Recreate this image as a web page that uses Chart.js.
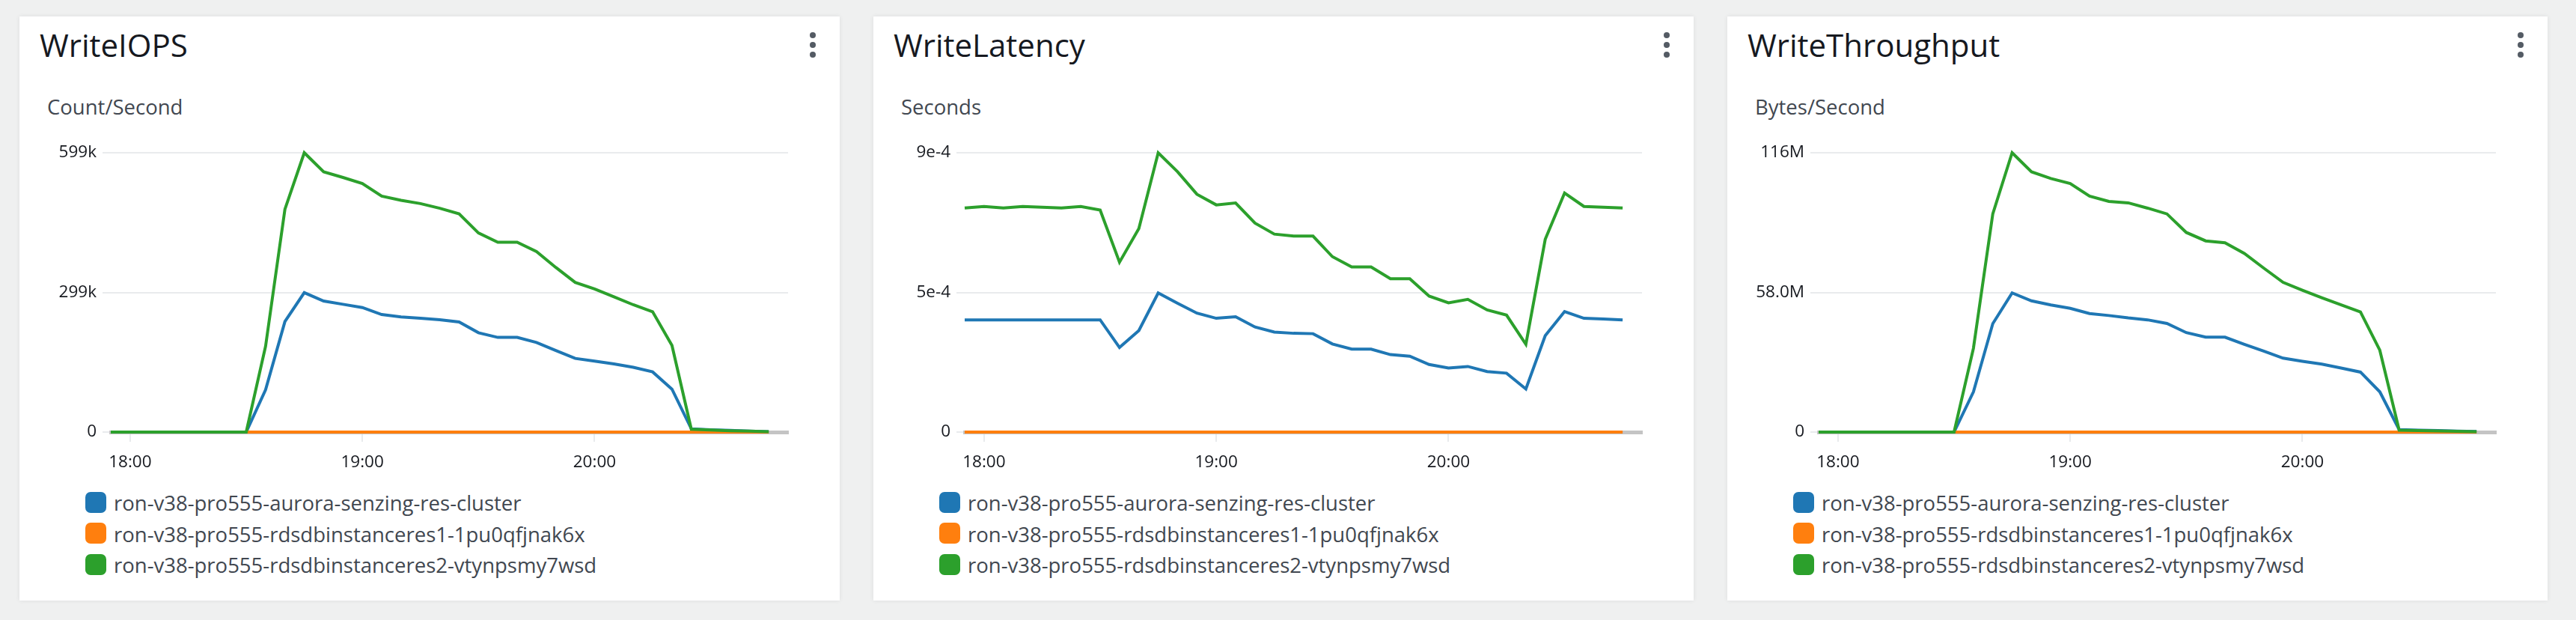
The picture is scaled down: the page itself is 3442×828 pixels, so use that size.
<!DOCTYPE html>
<html><head><meta charset="utf-8">
<script src="https://cdn.jsdelivr.net/npm/chart.js@4.4.0/dist/chart.umd.min.js"></script>
<style>
html,body{margin:0;padding:0;}
body{width:3442px;height:828px;background:#eff0f0;position:relative;overflow:hidden;font-family:'Open Sans',sans-serif;}
.panel{position:absolute;top:22px;width:1096px;height:780px;background:#fff;box-shadow:0 0 6px rgba(0,28,36,0.08);}
.title{position:absolute;left:27px;top:17px;font-size:42px;line-height:42px;color:#16191f;white-space:nowrap;}
.unit{position:absolute;left:37px;top:107px;font-size:27.5px;line-height:27.5px;color:#414750;white-space:nowrap;}
.kebab{position:absolute;left:1056px;top:21px;width:8px;}
.kebab span{display:block;width:8px;height:8px;border-radius:50%;background:#545b64;margin-bottom:5px;}
.cv{position:absolute;left:0;top:150px;}
.legend{position:absolute;left:88px;top:628px;}
.row{display:flex;align-items:center;height:41.5px;}
.sw{width:28px;height:28px;border-radius:7px;margin-right:10px;flex:none;}
.lt{font-size:27.5px;color:#414750;white-space:nowrap;position:relative;top:1px;}
</style></head><body>
<script>
const times = ['17:55','18:00','18:05','18:10','18:15','18:20','18:25','18:30','18:35','18:40','18:45','18:50','18:55',
  '19:00','19:05','19:10','19:15','19:20','19:25','19:30','19:35','19:40','19:45','19:50','19:55',
  '20:00','20:05','20:10','20:15','20:20','20:25','20:30','20:35','20:40','20:45'];
const xMinTime = '17:55';
const xMaxTime = '20:50';
const xTickLabels = ['18:00','19:00','20:00'];

const titles = ['WriteIOPS','WriteLatency','WriteThroughput'];
const units = ['Count/Second','Seconds','Bytes/Second'];
const seriesNames = ['ron-v38-pro555-aurora-senzing-res-cluster','ron-v38-pro555-rdsdbinstanceres1-1pu0qfjnak6x','ron-v38-pro555-rdsdbinstanceres2-vtynpsmy7wsd'];
const seriesColors = ['#1f77b4','#ff7f0e','#2ca02c'];

const iopsBlue = [0,0,0,0,0,0,0,0,90600,237000,299000,281000,274000,267000,252000,247000,244000,241000,236000,213000,203000,203000,192000,175000,158000,152000,146000,139000,129000,92000,7000,5000,3500,2000,1000];
const iopsOrange = [0,0,0,0,0,0,0,0,0,0,0,0,0,0,0,0,0,0,0,0,0,0,0,0,0,0,0,0,0,0,0,0,0,0,0];
const iopsGreen = [0,0,0,0,0,0,0,0,184000,478000,599000,558000,546000,533000,506000,497000,490000,480000,468000,427000,407000,407000,387000,353000,321000,307000,290000,273000,258000,186000,6000,4500,3000,2000,1000];
const iopsTicks = [0,299500,599000];
const iopsTickLabels = ['0','299k','599k'];

const latBlue = [3.615e-4,3.615e-4,3.615e-4,3.615e-4,3.615e-4,3.615e-4,3.615e-4,3.615e-4,2.724e-4,3.272e-4,4.481e-4,4.150e-4,3.832e-4,3.666e-4,3.717e-4,3.386e-4,3.221e-4,3.182e-4,3.170e-4,2.839e-4,2.673e-4,2.673e-4,2.495e-4,2.444e-4,2.177e-4,2.062e-4,2.113e-4,1.948e-4,1.897e-4,1.388e-4,3.106e-4,3.883e-4,3.666e-4,3.641e-4,3.615e-4];
const latOrange = [0,0,0,0,0,0,0,0,0,0,0,0,0,0,0,0,0,0,0,0,0,0,0,0,0,0,0,0,0,0,0,0,0,0,0];
const latGreen = [7.218e-4,7.269e-4,7.218e-4,7.269e-4,7.243e-4,7.218e-4,7.269e-4,7.154e-4,5.474e-4,6.556e-4,9.0e-4,8.389e-4,7.663e-4,7.320e-4,7.383e-4,6.734e-4,6.378e-4,6.314e-4,6.314e-4,5.652e-4,5.321e-4,5.321e-4,4.939e-4,4.939e-4,4.379e-4,4.163e-4,4.277e-4,3.934e-4,3.768e-4,2.826e-4,6.212e-4,7.702e-4,7.269e-4,7.243e-4,7.218e-4];
const latTicks = [0,0.00045,0.0009];
const latTickLabels = ['0','5e-4','9e-4'];

const tputBlue = [0,0,0,0,0,0,0,0,16.7e6,45.0e6,57.8e6,54.5e6,52.8e6,51.4e6,49.2e6,48.4e6,47.4e6,46.6e6,45.1e6,41.3e6,39.4e6,39.4e6,36.4e6,33.6e6,30.7e6,29.4e6,28.2e6,26.6e6,24.9e6,16.7e6,1.0e6,0.8e6,0.6e6,0.4e6,0.2e6];
const tputOrange = [0,0,0,0,0,0,0,0,0,0,0,0,0,0,0,0,0,0,0,0,0,0,0,0,0,0,0,0,0,0,0,0,0,0,0];
const tputGreen = [0,0,0,0,0,0,0,0,34.8e6,90.6e6,116e6,108.1e6,105.3e6,103.2e6,98.0e6,95.8e6,95.2e6,93.0e6,90.6e6,82.9e6,79.4e6,78.6e6,74.2e6,68.1e6,62.2e6,58.9e6,55.8e6,52.8e6,49.9e6,34.0e6,0.8e6,0.6e6,0.45e6,0.3e6,0.15e6];
const tputTicks = [0,58e6,116e6];
const tputTickLabels = ['0','58.0M','116M'];

const panelLefts = [26,1167,2308];

function toMin(t){ const p = t.split(':').map(Number); return p[0]*60 + p[1]; }

function buildPanel(idx, blue, orange, green, yTicks, yLabels){
  const panel = document.createElement('div');
  panel.className = 'panel';
  panel.style.left = panelLefts[idx] + 'px';
  const t = document.createElement('div'); t.className = 'title'; t.textContent = titles[idx]; panel.appendChild(t);
  const u = document.createElement('div'); u.className = 'unit'; u.textContent = units[idx]; panel.appendChild(u);
  const k = document.createElement('div'); k.className = 'kebab'; k.innerHTML = '<span></span><span></span><span></span>'; panel.appendChild(k);
  const cv = document.createElement('canvas'); cv.className = 'cv'; cv.width = 1096; cv.height = 465;
  cv.style.width = '1096px'; cv.style.height = '465px';
  panel.appendChild(cv);
  const lg = document.createElement('div'); lg.className = 'legend';
  seriesNames.forEach((n, i) => {
    const r = document.createElement('div'); r.className = 'row';
    const s = document.createElement('div'); s.className = 'sw'; s.style.background = seriesColors[i];
    const l = document.createElement('div'); l.className = 'lt'; l.textContent = n;
    r.appendChild(s); r.appendChild(l); lg.appendChild(r);
  });
  panel.appendChild(lg);
  document.body.appendChild(panel);

  const mk = arr => arr.map((v, i) => ({x: toMin(times[i]), y: v}));
  new Chart(cv, {
    type: 'line',
    data: { datasets: [
      {label: seriesNames[0], data: mk(blue), borderColor: seriesColors[0], backgroundColor: seriesColors[0], order: 2, clip: false},
      {label: seriesNames[1], data: mk(orange), borderColor: seriesColors[1], backgroundColor: seriesColors[1], order: 1, clip: false},
      {label: seriesNames[2], data: mk(green), borderColor: seriesColors[2], backgroundColor: seriesColors[2], order: 0, clip: false}
    ]},
    options: {
      responsive: false, animation: false, devicePixelRatio: 1,
      layout: {padding: {top: 32, right: 69, left: 0, bottom: 0}},
      elements: {line: {borderWidth: 4, tension: 0, fill: false}, point: {radius: 0, hoverRadius: 0}},
      plugins: {legend: {display: false}, tooltip: {enabled: false}},
      scales: {
        x: {
          type: 'linear', min: toMin(xMinTime), max: toMin(xMaxTime),
          afterBuildTicks: s => { s.ticks = xTickLabels.map(l => ({value: toMin(l)})); },
          afterFit: s => { s.height = 60; },
          ticks: {callback: (v, i) => xTickLabels[i], font: {family: "'Open Sans'", size: 22.5}, color: '#16191f', padding: 14.5, maxRotation: 0, autoSkip: false},
          grid: {drawOnChartArea: false, drawTicks: true, tickLength: 13, color: '#e9ebed', lineWidth: 2},
          border: {display: true, color: '#c4c4c4', width: 5}
        },
        y: {
          min: 0, max: yTicks[yTicks.length - 1],
          afterBuildTicks: s => { s.ticks = yTicks.map(v => ({value: v})); },
          afterFit: s => { s.width = 122; },
          ticks: {callback: (v, i) => yLabels[i], font: {family: "'Open Sans'", size: 22.5}, color: '#16191f', padding: 8},
          grid: {color: '#e9ebed', lineWidth: 2, tickLength: 11, drawTicks: true},
          border: {display: false}
        }
      }
    }
  });
}

buildPanel(0, iopsBlue, iopsOrange, iopsGreen, iopsTicks, iopsTickLabels);
buildPanel(1, latBlue, latOrange, latGreen, latTicks, latTickLabels);
buildPanel(2, tputBlue, tputOrange, tputGreen, tputTicks, tputTickLabels);
</script>
</body></html>
